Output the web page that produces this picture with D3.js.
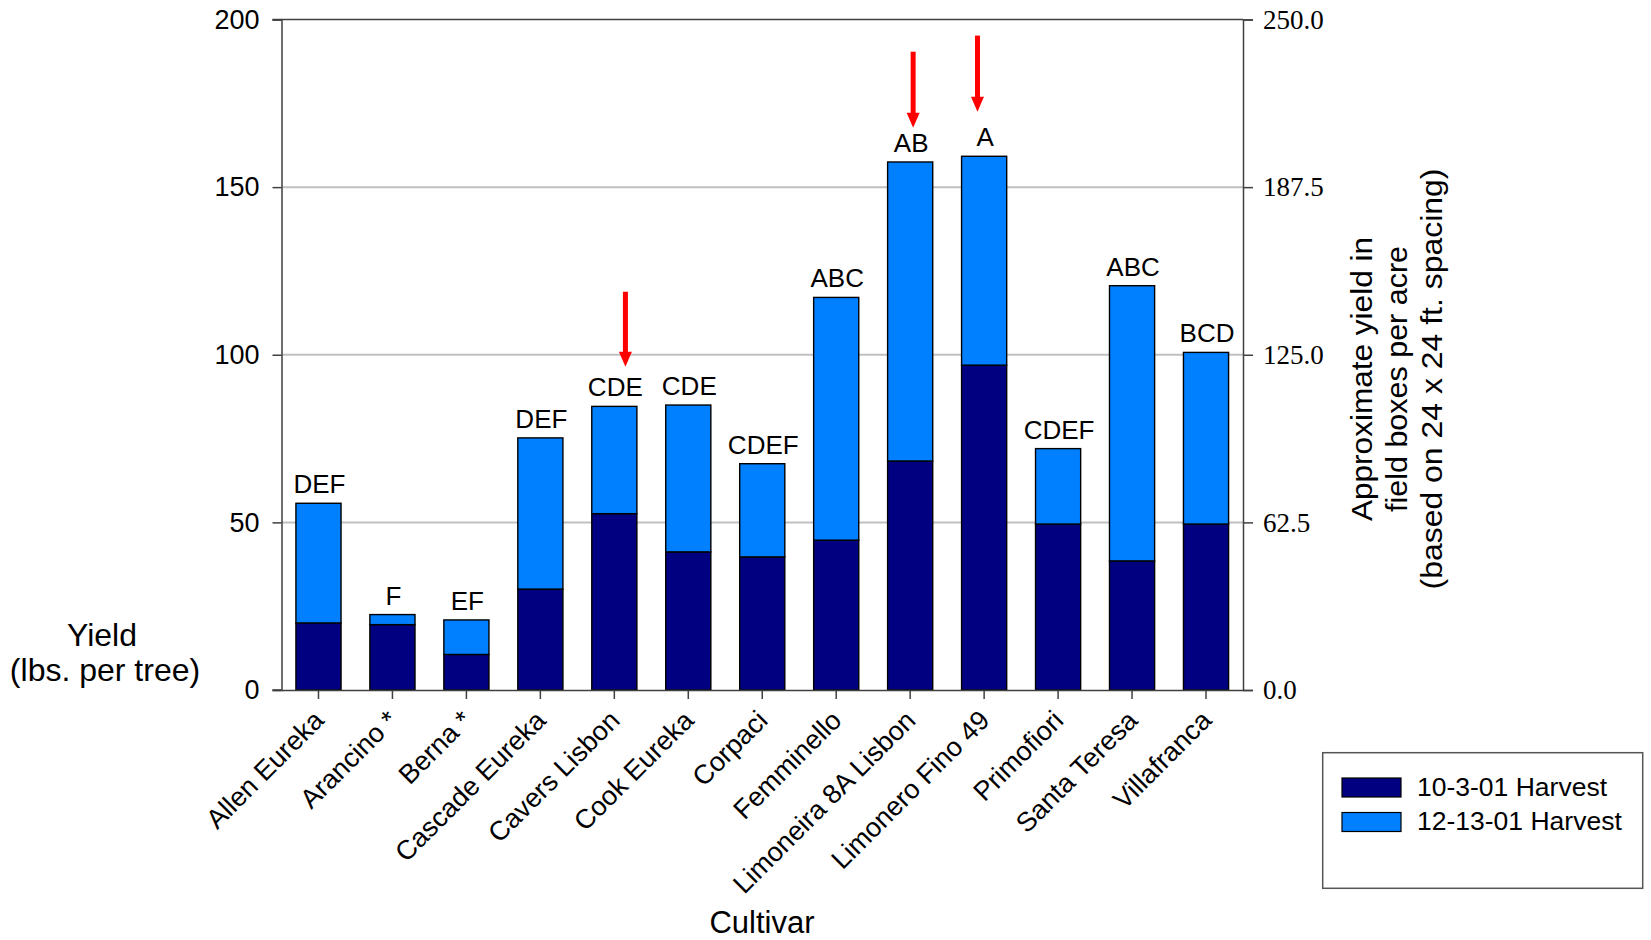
<!DOCTYPE html>
<html>
<head>
<meta charset="utf-8">
<script src="https://cdn.jsdelivr.net/npm/d3@7"></script>
<style>
  html, body { margin: 0; padding: 0; background: #fff; }
  svg { display: block; }
</style>
</head>
<body>
<svg id="chart" width="1651" height="940"></svg>
<script>
// ---- Data ----
const cultivars = ["Allen Eureka","Arancino *","Berna *","Cascade Eureka","Cavers Lisbon","Cook Eureka","Corpaci","Femminello","Limoneira 8A Lisbon","Limonero Fino 49","Primofiori","Santa Teresa","Villafranca"];
const harvestOct = [20.0, 19.5, 10.6, 30.1, 52.6, 41.2, 39.7, 44.7, 68.3, 96.9, 49.5, 38.5, 49.5];
const harvestDec = [35.7, 3.0, 10.3, 45.1, 32.0, 43.8, 27.8, 72.4, 89.2, 62.3, 22.5, 82.1, 51.2];
const groupLetters = ["DEF","F","EF","DEF","CDE","CDE","CDEF","ABC","AB","A","CDEF","ABC","BCD"];
const seriesNames = ["10-3-01 Harvest","12-13-01 Harvest"];
const seriesColors = ["#000080","#0080FF"];
const leftTicks = [0, 50, 100, 150, 200];
const rightTicks = [0, 62.5, 125, 187.5, 250];
// red arrows: cultivar, top value, tip value, horizontal offset (fraction of band step)
const arrowCultivars = ["Cavers Lisbon","Limoneira 8A Lisbon","Limonero Fino 49"];
const arrowTop = [118.8, 190.4, 195.2];
const arrowTip = [96.4, 167.7, 172.5];
const arrowShift = [0.15, 0.04, -0.09];

// ---- Layout ----
const SANS = "'Liberation Sans', Arial, sans-serif";
const SERIF = "'Liberation Serif', 'Times New Roman', serif";
const L = 281.5, R = 1243, T = 19.5, B = 690;
const svg = d3.select("#chart").style("font-family", SANS);

const x = d3.scaleBand().domain(cultivars).range([L, R]).paddingInner(0.39).paddingOuter(0.195);
const y = d3.scaleLinear().domain([0, 200]).range([B, T]);
const y2 = d3.scaleLinear().domain([0, 250]).range([B, T]);

// gridlines
svg.append("g").selectAll("line").data(leftTicks.filter(d => d > 0 && d < 200)).join("line")
  .attr("x1", L).attr("x2", R).attr("y1", d => y(d)).attr("y2", d => y(d))
  .attr("stroke", "#c0c0c0").attr("stroke-width", 2);

// stacked bars
const rows = cultivars.map((c, i) => ({cultivar: c, oct: harvestOct[i], dec: harvestDec[i]}));
const stack = d3.stack().keys(["oct", "dec"])(rows);
svg.append("g").selectAll("g").data(stack).join("g")
  .attr("fill", (d, i) => seriesColors[i])
  .selectAll("rect").data(d => d).join("rect")
  .attr("x", d => x(d.data.cultivar))
  .attr("width", x.bandwidth())
  .attr("y", d => y(d[1]))
  .attr("height", d => y(d[0]) - y(d[1]))
  .attr("stroke", "#000").attr("stroke-width", 1.4);

// group letters
svg.append("g").selectAll("text").data(rows).join("text")
  .attr("x", d => x(d.cultivar) + x.bandwidth() / 2 + 1)
  .attr("y", d => y(d.oct + d.dec) - 10)
  .attr("text-anchor", "middle")
  .style("font-family", SANS).style("font-size", "26px")
  .text((d, i) => groupLetters[i]);

// frame: top border
svg.append("line").attr("x1", L - 9).attr("x2", R).attr("y1", y(200)).attr("y2", y(200))
  .attr("stroke", "#404040").attr("stroke-width", 1.5);

// left axis
const yAxis = d3.axisLeft(y).tickValues(leftTicks).tickSize(9).tickPadding(13).tickFormat(d3.format("d"));
const gy = svg.append("g").attr("transform", `translate(${L},0)`).call(yAxis);
gy.select(".domain").attr("stroke", "#404040").attr("stroke-width", 1.5);
gy.selectAll(".tick line").attr("stroke", "#404040").attr("stroke-width", 1.5);
gy.selectAll(".tick text").style("font-size", "27px").style("font-family", SANS).attr("fill", "#000");

// right axis
const yAxis2 = d3.axisRight(y2).tickValues(rightTicks).tickSize(10).tickPadding(10).tickFormat(d3.format(".1f"));
const gy2 = svg.append("g").attr("transform", `translate(${R},0)`).call(yAxis2);
gy2.select(".domain").attr("stroke", "#404040").attr("stroke-width", 1.5);
gy2.selectAll(".tick line").attr("stroke", "#404040").attr("stroke-width", 1.5);
gy2.selectAll(".tick text").style("font-size", "27px").style("font-family", SERIF).attr("fill", "#000");

// bottom axis
const xAxis = d3.axisBottom(x).tickSize(9).tickSizeOuter(0);
const gx = svg.append("g").attr("transform", `translate(0,${B})`).call(xAxis);
gx.select(".domain").attr("stroke", "#404040").attr("stroke-width", 1.5);
gx.append("line").attr("x1", L - 9).attr("x2", L).attr("stroke", "#404040").attr("stroke-width", 1.5);
gx.selectAll(".tick line").attr("stroke", "#404040").attr("stroke-width", 1.5);
gx.selectAll(".tick text")
  .style("font-size", "27px").style("font-family", SANS).attr("fill", "#000")
  .attr("text-anchor", "end")
  .attr("x", 0).attr("y", 0).attr("dy", 0)
  .attr("transform", "translate(7,32) rotate(-45)");

// red arrows
const arrows = arrowCultivars.map((c, i) => ({c, top: arrowTop[i], tip: arrowTip[i], s: arrowShift[i]}));
const ag = svg.append("g");
arrows.forEach(a => {
  const cx = x(a.c) + x.bandwidth() / 2 + a.s * x.step();
  const yt = y(a.top), yp = y(a.tip), hl = 15, hw = 6.5;
  ag.append("line").attr("x1", cx).attr("x2", cx).attr("y1", yt).attr("y2", yp - hl + 1)
    .attr("stroke", "#ff0000").attr("stroke-width", 5);
  ag.append("path").attr("d", `M${cx - hw},${yp - hl}L${cx + hw},${yp - hl}L${cx},${yp}Z`).attr("fill", "#ff0000");
});

// axis titles
const lt = svg.append("text").style("font-size", "32px").style("font-family", SANS).attr("text-anchor", "middle");
lt.append("tspan").attr("x", 102).attr("y", 646).text("Yield");
lt.append("tspan").attr("x", 105).attr("y", 681).text("(lbs. per tree)");

svg.append("text").attr("x", 762).attr("y", 933).attr("text-anchor", "middle")
  .style("font-size", "31px").style("font-family", SANS).text("Cultivar");

const rtLines = ["Approximate yield in", "field boxes per acre", "(based on 24 x 24 ft. spacing)"];
const rtLen = [284, 266, 421];
const rt = svg.append("g").attr("transform", "translate(1371.7,379) rotate(-90)");
rtLines.forEach((t, i) => {
  rt.append("text").attr("x", 0).attr("y", i * 35).attr("text-anchor", "middle")
    .style("font-size", "30px").style("font-family", SANS)
    .attr("textLength", rtLen[i]).attr("lengthAdjust", "spacingAndGlyphs").text(t);
});

// legend
const lg = svg.append("g");
lg.append("rect").attr("x", 1322.7).attr("y", 752.7).attr("width", 320).attr("height", 135.6)
  .attr("fill", "#fff").attr("stroke", "#555").attr("stroke-width", 1.5);
seriesNames.forEach((n, i) => {
  lg.append("rect").attr("x", 1342).attr("y", 778 + i * 34.5).attr("width", 59).attr("height", 19)
    .attr("fill", seriesColors[i]).attr("stroke", "#000").attr("stroke-width", 1.2);
  lg.append("text").attr("x", 1417).attr("y", 795.5 + i * 34.5)
    .style("font-size", "26.5px").style("font-family", SANS).text(n);
});
</script>
</body>
</html>
